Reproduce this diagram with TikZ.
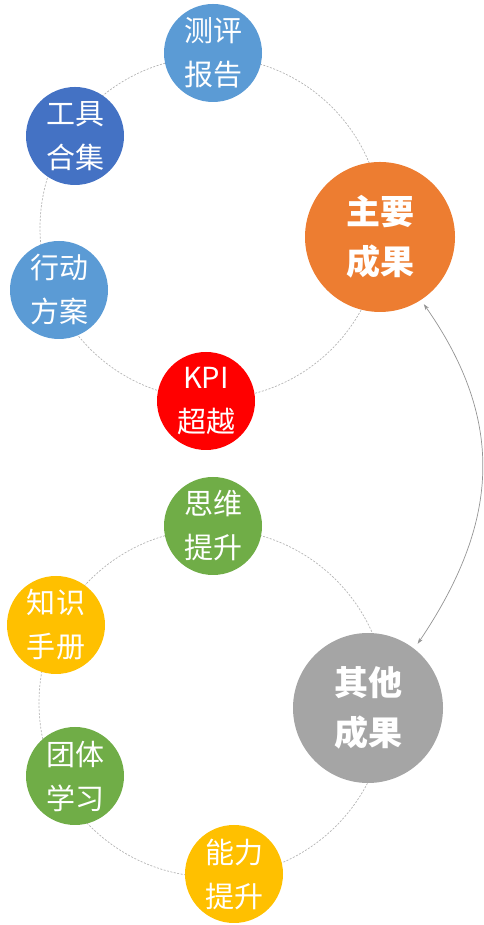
\documentclass[tikz,border=0pt]{standalone}
\usepackage{fontspec}
\newfontfamily\cjk{Noto Sans CJK SC}
\usetikzlibrary{arrows.meta}
\definecolor{lblue}{HTML}{5B9BD5}
\definecolor{dblue}{HTML}{4472C4}
\definecolor{orng}{HTML}{ED7D31}
\definecolor{kred}{HTML}{FF0000}
\definecolor{grn}{HTML}{70AD47}
\definecolor{gold}{HTML}{FFC000}
\definecolor{gry}{HTML}{A5A5A5}
\definecolor{ringc}{HTML}{B4B4B4}
\tikzset{
  smallc/.style={circle, fill=#1, minimum size=98pt, inner sep=0pt, text=white, align=center,
    font=\cjk\fontsize{29}{44}\selectfont},
  bigc/.style={circle, fill=#1, minimum size=150pt, inner sep=0pt, text=white, align=center,
    font=\cjk\bfseries\fontsize{34}{50}\selectfont},
  ring/.style={draw=ringc, line width=0.7pt, dash pattern=on 2pt off 1.5pt},
  link/.style={draw=gry!90!black, line width=0.7pt, {Stealth[length=6pt,width=4pt]}-{Stealth[length=6pt,width=4pt]}}
}
\begin{document}
\begin{tikzpicture}[x=1pt,y=1pt]
\useasboundingbox (0,0) rectangle (483,925);
% rings
\coordinate (r1) at (211,697);
\coordinate (r2) at (213,222);
\draw[ring] (r1) circle[radius=171];
\draw[ring] (r2) circle[radius=174];
% top group
\node[smallc=lblue] (cp) at (213,872) {测评\\报告};
\node[smallc=dblue] (gj) at (75,789) {工具\\合集};
\node[bigc=orng] (main) at (380,688) {主要\\成果};
\node[smallc=lblue] (xd) at (59,635) {行动\\方案};
\node[smallc=kred] (kpi) at (206,524) {KPI\\超越};
% bottom group
\node[smallc=grn] (sw) at (213,399) {思维\\提升};
\node[smallc=gold] (zs) at (56,300) {知识\\手册};
\node[bigc=gry] (other) at (368,217) {其他\\成果};
\node[smallc=grn] (tt) at (75,149) {团体\\学习};
\node[smallc=gold] (nl) at (234,51) {能力\\提升};
% connector
\draw[link, shorten <=5pt, shorten >=6pt] (main.-57) to[out=-55, in=56, looseness=1.1] (other.52);
\end{tikzpicture}
\end{document}
